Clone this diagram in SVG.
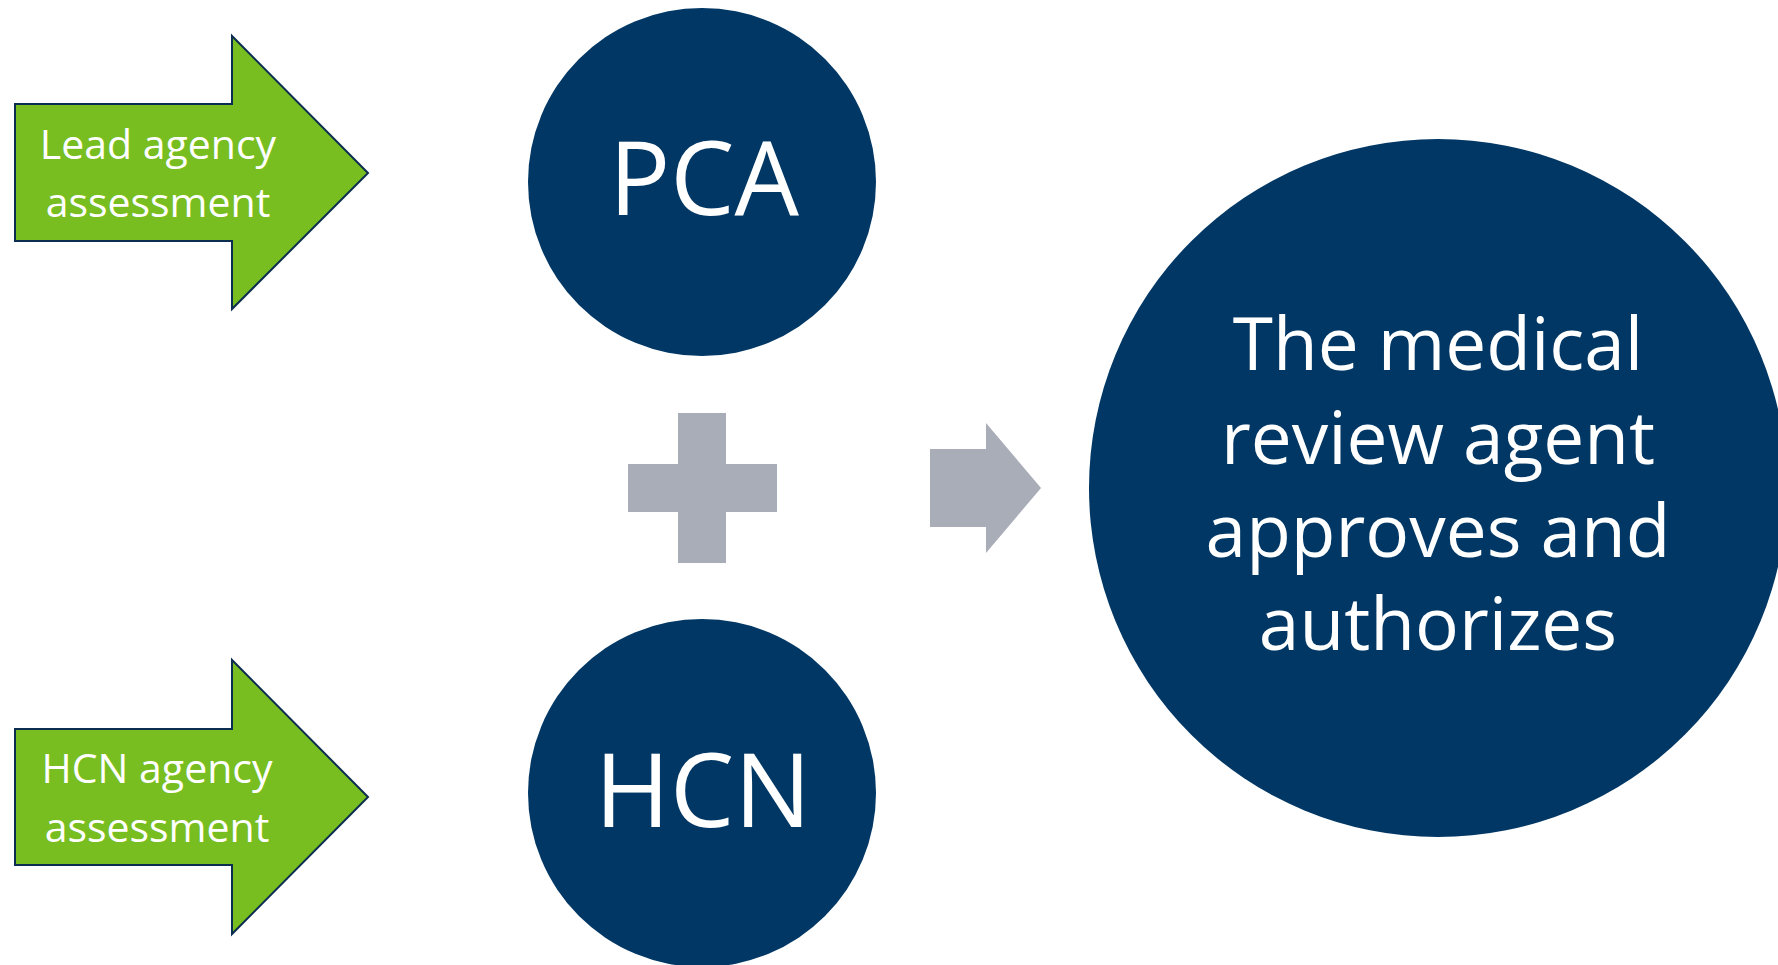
<svg xmlns="http://www.w3.org/2000/svg" width="1778" height="965" viewBox="0 0 1778 965">
<style>
.bg{fill:#ffffff}
.garrow{fill:#78BE21;stroke:#0B2D4F;stroke-width:2;stroke-linejoin:miter}
.circ{fill:#003764}
.gray{fill:#A9ADB8}
.t{font-family:"Open Sans","Liberation Sans",sans-serif;fill:#ffffff;text-anchor:middle}
.small{font-size:41px}
.big{font-size:102px}
.mid{font-size:73px}
</style>
<rect class="bg" x="0" y="0" width="1778" height="965"/>
<g id="lead-arrow">
<polygon class="garrow" points="15,104 232,104 232,36 368,173 232,309 232,241 15,241"/>
<text class="t small" x="158" y="159">Lead agency</text>
<text class="t small" x="158" y="217">assessment</text>
</g>
<g id="hcn-arrow">
<polygon class="garrow" points="15,729 232,729 232,660 368,797 232,934 232,865 15,865"/>
<text class="t small" x="157" y="783">HCN agency</text>
<text class="t small" x="157" y="842">assessment</text>
</g>
<g id="pca">
<circle class="circ" cx="702" cy="182" r="174"/>
<text class="t big" x="704" y="215">PCA</text>
</g>
<g id="hcn">
<circle class="circ" cx="702" cy="793" r="174"/>
<text class="t big" x="703" y="827">HCN</text>
</g>
<g id="plus">
<polygon class="gray" points="678,413 726,413 726,464 777,464 777,512 726,512 726,563 678,563 678,512 628,512 628,464 678,464"/>
</g>
<g id="connectors">
<polygon class="gray" points="930,449 986,449 986,423 1041,488 986,553 986,527 930,527"/>
</g>
<g id="result">
<circle class="circ" cx="1438" cy="488" r="349"/>
<text class="t mid" x="1438" y="370">The medical</text>
<text class="t mid" x="1438" y="464">review agent</text>
<text class="t mid" x="1438" y="557">approves and</text>
<text class="t mid" x="1438" y="650">authorizes</text>
</g>
</svg>
